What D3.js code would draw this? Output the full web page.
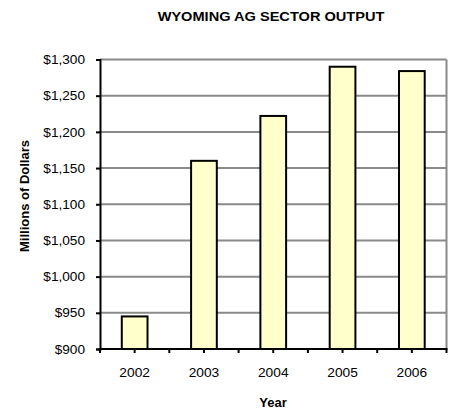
<!DOCTYPE html>
<html><head><meta charset="utf-8">
<script src="https://cdn.jsdelivr.net/npm/d3@7"></script>
<style>body{margin:0;background:#fff}svg{display:block}text{font-family:"Liberation Sans",Arial,sans-serif}</style>
</head><body>
<svg id="c" width="449" height="409"></svg>
<script>
const years = ["2002","2003","2004","2005","2006"];
const values = [945, 1160, 1222, 1290, 1284];
const yTicks = [900,950,1000,1050,1100,1150,1200,1250,1300];
const title = "WYOMING AG SECTOR OUTPUT";
const xTitle = "Year";
const yTitle = "Millions of Dollars";

const svg = d3.select("#c");
const L=100, R=446.5, T=59.5, B=349;
const x = d3.scaleBand().domain(years).range([L,R]).paddingInner(0).paddingOuter(0);
const y = d3.scaleLinear().domain([900,1300]).range([B,T]);
const FF = "Liberation Sans, Arial, sans-serif";

// gridlines
svg.append("g").selectAll("line").data(yTicks.slice(1)).join("line")
  .attr("x1",L).attr("x2",R).attr("y1",d=>y(d)).attr("y2",d=>y(d))
  .attr("stroke","#8a8a8a").attr("stroke-width",2);
svg.append("line").attr("x1",R).attr("x2",R).attr("y1",T).attr("y2",B).attr("stroke","#8a8a8a").attr("stroke-width",2);

// bars
const bw = x.bandwidth()*0.4;
svg.append("g").selectAll("rect").data(values).join("rect")
  .attr("x",(d,i)=>x(years[i])+x.bandwidth()/2-bw/2+1)
  .attr("width",bw-2)
  .attr("y",d=>y(d))
  .attr("height",d=>y(900)-y(d))
  .attr("fill","#FFFFCC").attr("stroke","#000").attr("stroke-width",2);

// y axis
const sxT = 1.05;
const ya = svg.append("g").attr("transform",`translate(${L},0)`)
  .call(d3.axisLeft(y).tickValues(yTicks).tickSize(4).tickPadding(11).tickFormat(d=>"$"+d3.format(",")(d)));
ya.select(".domain").attr("stroke","#000").attr("stroke-width",2);
ya.selectAll(".tick line").attr("stroke","#000").attr("stroke-width",2);
ya.selectAll(".tick text").attr("font-size",13).attr("fill","#000").style("font-family",FF)
  .attr("x",-15/sxT).attr("transform",`scale(${sxT},1)`);

// x axis
const xa = svg.append("g").attr("transform",`translate(0,${B})`)
  .call(d3.axisBottom(x).tickSize(0).tickPadding(19));
xa.select(".domain").remove();
xa.selectAll(".tick text").attr("font-size",13).attr("fill","#000").style("font-family",FF)
  .attr("transform","scale(1.06,1)");
const halfTicks = d3.range(0, years.length*2+1).map(k=>L + k*x.bandwidth()/2);
svg.append("g").selectAll("line").data(halfTicks).join("line")
  .attr("x1",d=>d).attr("x2",d=>d).attr("y1",B).attr("y2",B+4)
  .attr("stroke","#000").attr("stroke-width",2);
svg.append("line").attr("x1",L-1).attr("x2",R+1).attr("y1",B).attr("y2",B).attr("stroke","#000").attr("stroke-width",2);

// titles
svg.append("text").attr("transform","translate(271,21) scale(1.08,1)").attr("text-anchor","middle")
  .attr("font-size",13.5).attr("font-weight","bold").text(title);
svg.append("text").attr("transform","translate(273,407)").attr("text-anchor","middle")
  .attr("font-size",13).attr("font-weight","bold").text(xTitle);
svg.append("text").attr("transform","translate(29,196) rotate(-90)").attr("text-anchor","middle")
  .attr("font-size",13).attr("font-weight","bold").text(yTitle);
</script>
</body></html>
